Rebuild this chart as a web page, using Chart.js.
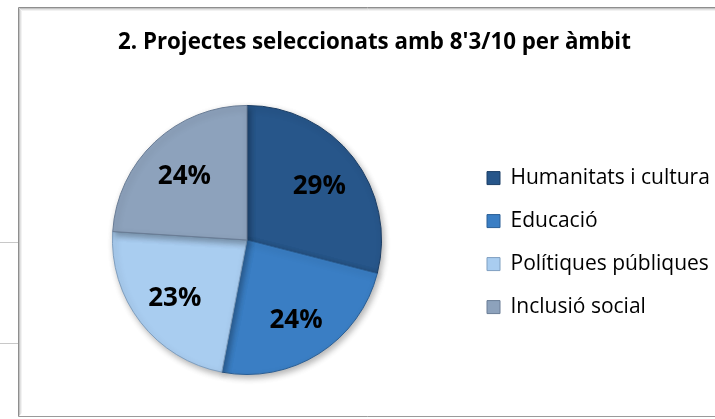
<!DOCTYPE html>
<html>
<head>
<meta charset="utf-8">
<script src="https://cdn.jsdelivr.net/npm/chart.js@4/dist/chart.umd.min.js"></script>
<style>
  html, body { margin: 0; padding: 0; background: #ffffff; }
  #wrap { position: relative; width: 715px; height: 419px; }
</style>
</head>
<body>
<div id="wrap"><canvas id="c" width="715" height="419"></canvas></div>
<script>
const categories = ["Humanitats i cultura", "Educació", "Polítiques públiques", "Inclusió social"];
const values = [29, 24, 23, 24];
const sliceColors = ["#27568a", "#3a7ec4", "#a9cdf0", "#8da2bc"];
const sliceBorders = ["#1d3f66", "#2a5f96", "#7f9fc0", "#6a7d96"];
const titleText = "2. Projectes seleccionats amb 8'3/10 per àmbit";

const FONT = "'Open Sans', 'DejaVu Sans', sans-serif";
const legendFontSize = 21;
const legendBox = 13;
const legendPad = 22;

// measure legend width so the legend sits where the reference puts it
const mctx = document.createElement('canvas').getContext('2d');
mctx.font = legendFontSize + "px " + FONT;
let maxW = 0;
categories.forEach(c => { maxW = Math.max(maxW, mctx.measureText(c).width); });
const legendWidth = legendPad + legendBox + legendFontSize / 2 + maxW + 10;
const areaRight = 487 - legendPad;
const padL = 2 * 247 - areaRight;
const padR = 715 - areaRight - legendWidth;

const frame = {
  id: 'frame',
  beforeDraw(chart) {
    const ctx = chart.ctx;
    ctx.save();
    ctx.fillStyle = '#ffffff';
    ctx.fillRect(0, 0, 715, 419);
    ctx.strokeStyle = '#c8c8c8';
    ctx.lineWidth = 1;
    ctx.beginPath();
    ctx.moveTo(0, 242.5); ctx.lineTo(18, 242.5);
    ctx.moveTo(0, 343.5); ctx.lineTo(18, 343.5);
    ctx.stroke();
    const shades = ['#8e8e8e', '#c4c4c4', '#e2e2e2', '#f2f2f2'];
    shades.forEach((col, i) => {
      ctx.strokeStyle = col;
      ctx.beginPath();
      ctx.moveTo(18.5 + i, 416.5 - i);
      ctx.lineTo(18.5 + i, 7.5 + i);
      ctx.lineTo(716, 7.5 + i);
      ctx.stroke();
    });
    ctx.strokeStyle = '#9a9a9a';
    ctx.beginPath();
    ctx.moveTo(18.5, 416.5); ctx.lineTo(716, 416.5);
    ctx.stroke();
    ctx.restore();
  },
  beforeDatasetsDraw(chart) {
    const ctx = chart.ctx;
    ctx.save();
    ctx.shadowColor = 'rgba(0,0,0,0.30)';
    ctx.shadowBlur = 6;
    ctx.shadowOffsetX = 2;
    ctx.shadowOffsetY = 3;
  },
  afterDatasetsDraw(chart) {
    chart.ctx.restore();
  }
};

const pctLabels = {
  id: 'pctLabels',
  afterDatasetsDraw(chart) {
    const ctx = chart.ctx;
    const meta = chart.getDatasetMeta(0);
    const data = chart.data.datasets[0].data;
    const total = data.reduce((a, b) => a + b, 0);
    ctx.save();
    ctx.font = "bold 26px " + FONT;
    ctx.fillStyle = '#000000';
    ctx.textAlign = 'center';
    ctx.textBaseline = 'middle';
    meta.data.forEach((arc, i) => {
      const p = arc.getProps(['x', 'y', 'startAngle', 'endAngle', 'outerRadius'], true);
      const mid = (p.startAngle + p.endAngle) / 2;
      const r = p.outerRadius * 0.68;
      const txt = Math.round(data[i] / total * 100) + '%';
      ctx.fillText(txt, p.x + Math.cos(mid) * r, p.y + Math.sin(mid) * r + 3);
    });
    ctx.restore();
  }
};

new Chart(document.getElementById('c'), {
  type: 'pie',
  data: {
    labels: categories,
    datasets: [{
      data: values,
      backgroundColor: sliceColors,
      borderColor: sliceBorders,
      borderWidth: 1
    }]
  },
  options: {
    responsive: false,
    animation: false,
    devicePixelRatio: 1,
    layout: { padding: { left: padL, right: padR, top: 0, bottom: 44 } },
    plugins: {
      title: {
        display: true,
        text: titleText,
        color: '#000000',
        font: { family: FONT, size: 22.3, weight: 'bold', lineHeight: 1.2 },
        padding: { top: 29, bottom: 49.2 }
      },
      legend: {
        position: 'right',
        fullSize: false,
        title: { display: true, text: ' ', font: { size: 1 }, padding: 2 },
        labels: {
          color: '#000000',
          font: { family: FONT, size: legendFontSize },
          boxWidth: legendBox,
          boxHeight: legendBox,
          padding: legendPad
        }
      },
      tooltip: { enabled: false }
    }
  },
  plugins: [frame, pctLabels]
});
</script>
</body>
</html>
